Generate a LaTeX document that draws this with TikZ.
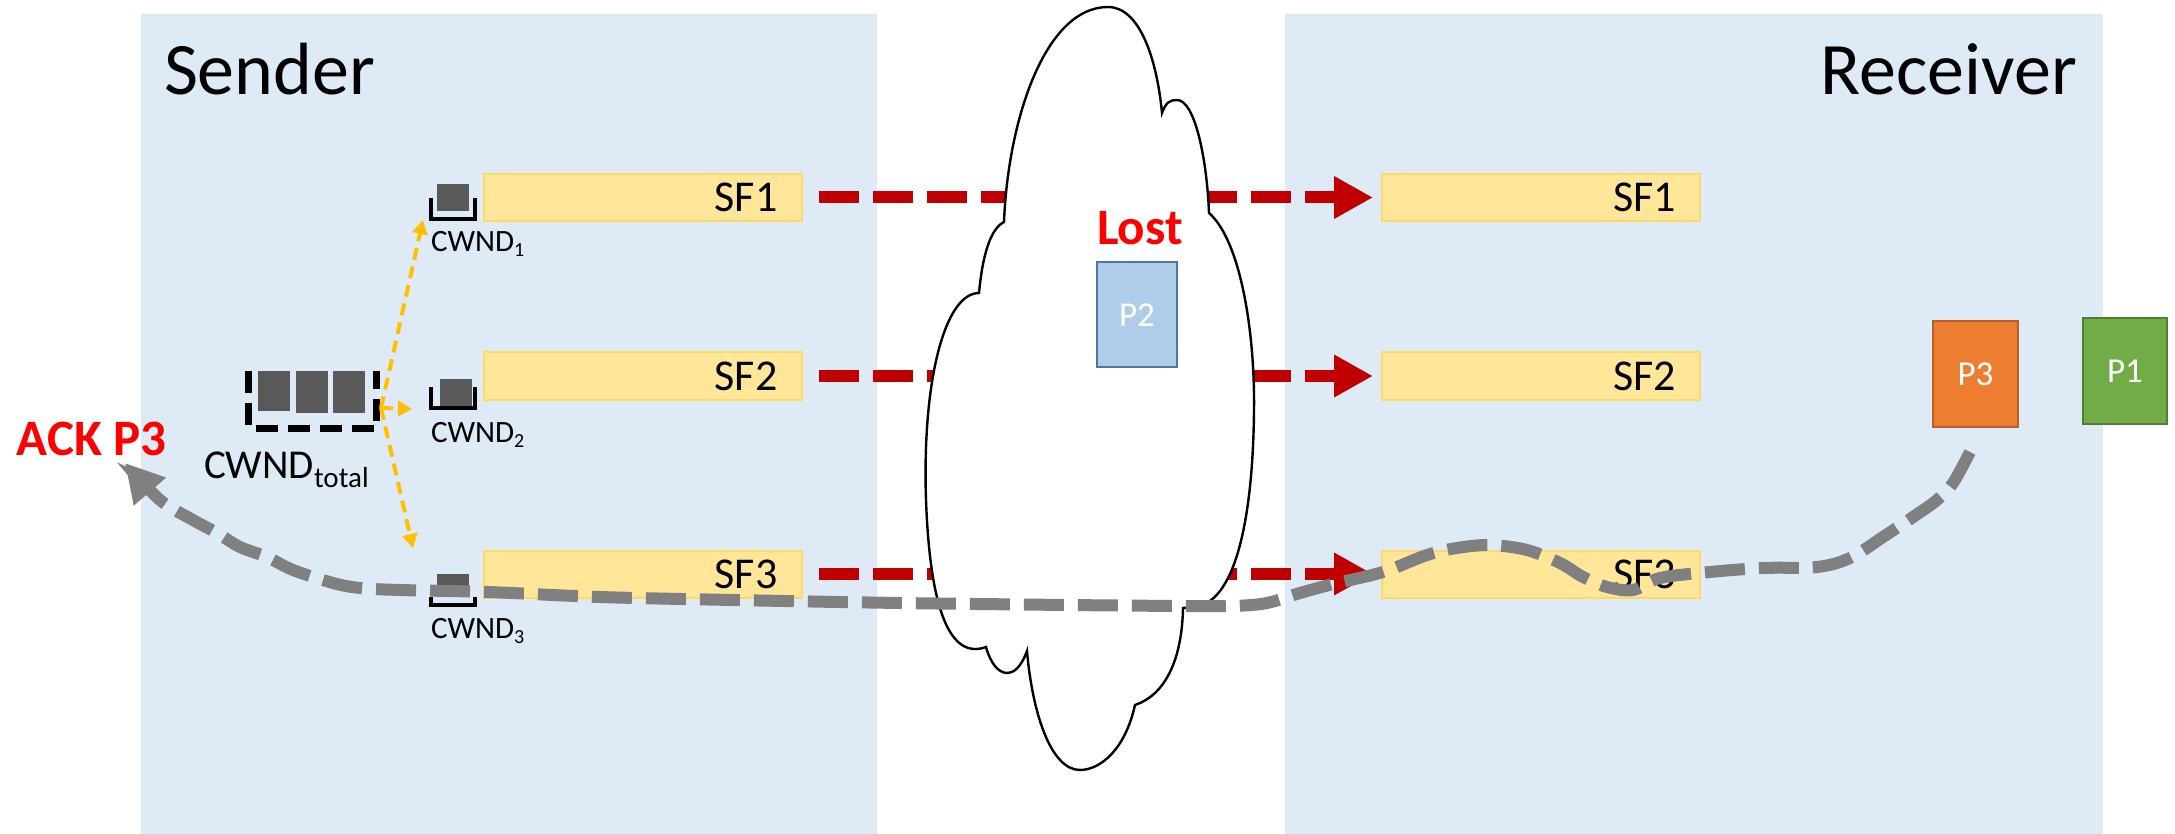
\documentclass[tikz,border=0pt]{standalone}
\usepackage{fontspec}
\setmainfont{Carlito}
\usetikzlibrary{arrows.meta}

\definecolor{panel}{RGB}{222,235,247}
\definecolor{sfFill}{RGB}{255,230,153}
\definecolor{sfLine}{RGB}{255,217,102}
\definecolor{dataRed}{RGB}{192,0,0}
\definecolor{ackGray}{RGB}{128,128,128}
\definecolor{splitOrange}{RGB}{255,192,0}
\definecolor{pktDark}{RGB}{89,89,89}
\definecolor{lostBlue}{RGB}{175,205,233}
\definecolor{lostBlueLine}{RGB}{74,118,168}
\definecolor{pThreeFill}{RGB}{237,125,49}
\definecolor{pThreeLine}{RGB}{184,95,36}
\definecolor{pOneFill}{RGB}{112,173,71}
\definecolor{pOneLine}{RGB}{80,126,50}
\definecolor{alertRed}{RGB}{255,0,0}

\newcommand\fsz[1]{\fontsize{#1}{#1}\selectfont}
\newcommand\lowidx[3]{\raisebox{-#2}{\fsz{#1}#3}}

\begin{document}
\begin{tikzpicture}[x=0.5pt,y=-0.5pt,
  txt/.style={inner sep=0pt, outer sep=0pt},
  title/.style={txt, font=\fsz{37}},
  sfbox/.style={draw=sfLine, line width=1pt, fill=sfFill,
    minimum width=159pt, minimum height=23.5pt, inner ysep=0pt,
    inner xsep=12pt, text width=135pt, align=right, font=\fsz{22}},
  pkt/.style={line width=1pt, minimum width=#1, minimum height=52.5pt,
    inner sep=0pt, text=white, font=\fsz{17.5}},
  dataflow/.style={draw=dataRed, line width=6pt, dash pattern=on 20pt off 7pt,
    -{Triangle[length=19.5pt,width=20pt]}, shorten <=8pt, shorten >=4pt},
  ack/.style={draw=ackGray, line width=6pt, dash pattern=on 20pt off 7pt,
    -{Triangle[length=19pt,width=20pt]}},
  split/.style={draw=splitOrange, line width=2pt, dash pattern=on 6pt off 3.5pt,
    -{Triangle[length=7pt,width=7.5pt]}},
  bracket/.style={draw=black, line width=2pt},
  totbracket/.style={draw=black, line width=3.5pt, dash pattern=on 11pt off 5pt},
  pktsq/.style={fill=pktDark},
  alert/.style={txt, text=alertRed, font=\fsz{25.5}\bfseries},
  cwnd/.style={txt, font=\fsz{15.5}},
  cloud/.style={draw=black, fill=white, line width=1.2pt, line join=miter}
]
\useasboundingbox (0,0) rectangle (2175,834);

% host panels
\fill[panel] (141,14) rectangle (877,834);
\fill[panel] (1285,14) rectangle (2103,834);
\node[title, anchor=base west] (sender) at (164,95) {Sender};
\node[title, anchor=base east] (receiver) at (2077,95) {Receiver};

% subflow buffers
\node[sfbox] (s1) at (642.5,197.5) {SF1};
\node[sfbox] (s2) at (642.5,376) {SF2};
\node[sfbox] (s3) at (642.5,574) {SF3};
\node[sfbox] (r1) at (1541,197.5) {SF1};
\node[sfbox] (r2) at (1541,376) {SF2};
\node[sfbox] (r3) at (1541,574) {SF3};

% data packets crossing the network
\draw[dataflow] (s1.east) -- (r1.west);
\draw[dataflow] (s2.east) -- (r2.west);
\draw[dataflow] (s3.east) -- (r3.west);

% the network cloud, one curve per lobe
\path[cloud]
  (1004,222) .. controls (1008,120) and (1045,7) .. (1108,7)
             .. controls (1140,7) and (1157,60) .. (1162,113)
             .. controls (1166,102) and (1170,100) .. (1177,100)
             .. controls (1195,100) and (1207,160) .. (1209,213)
             .. controls (1240,240) and (1255,330) .. (1254,410)
             .. controls (1253,520) and (1235,605) .. (1193,607)
  -- (1183,608)
             .. controls (1182,660) and (1165,695) .. (1135,705)
             .. controls (1125,750) and (1100,770) .. (1080,770)
             .. controls (1050,770) and (1032,710) .. (1027,651)
             .. controls (1020,670) and (1012,673) .. (1007,673)
             .. controls (998,673) and (990,662) .. (986,647)
             .. controls (950,660) and (930,610) .. (926,500)
             .. controls (922,380) and (945,293) .. (979,293)
             .. controls (983,250) and (992,228) .. (1004,222)
  -- cycle;

% lost packet
\node[alert, anchor=base west] (lost) at (1097,245) {Lost};
\node[pkt=40pt, draw=lostBlueLine, fill=lostBlue] (p2) at (1137,315) {P2};

% packets at the receiver
\node[pkt=42.5pt, draw=pThreeLine, fill=pThreeFill] (p3) at (1975.5,374) {P3};
\node[pkt=42pt, draw=pOneLine, fill=pOneFill] (p1) at (2125,371) {P1};

% per-subflow congestion windows
\draw[bracket] (431,198) -- (431,219) -- (475,219) -- (475,198);
\fill[pktsq] (437,184) rectangle (469,211);
\node[cwnd, anchor=base west] (w1) at (431,252) {CWND\lowidx{10pt}{2.5pt}{1}};

\draw[bracket] (431,387) -- (431,408) -- (475,408) -- (475,387);
\fill[pktsq] (440,379) rectangle (472,406);
\node[cwnd, anchor=base west] (w2) at (431,442) {CWND\lowidx{10pt}{2.5pt}{2}};

\draw[bracket] (431,597) -- (431,605) -- (475,605) -- (475,597);
\fill[pktsq] (437,574) rectangle (469,597);
\node[cwnd, anchor=base west] (w3) at (431,638) {CWND\lowidx{10pt}{2.5pt}{3}};

% total congestion window
\draw[totbracket] (248.5,371) -- (248.5,428) -- (376.5,428) -- (376.5,371);
\fill[pktsq] (258,371) rectangle (290,411);
\fill[pktsq] (296,371) rectangle (328,413);
\fill[pktsq] (333,371) rectangle (365,413);
\node[txt, font=\fsz{20.5}, anchor=base west] (wtot) at (204,478) {CWND\lowidx{14.5pt}{4.5pt}{total}};

% split of the total window over the subflows
\coordinate (split) at (381,408);
\coordinate (w1in) at (423,220);
\coordinate (w2in) at (412,409);
\coordinate (w3in) at (413,548);
\draw[split] (split) -- (w1in);
\draw[split] (split) -- (w2in);
\draw[split] (split) -- (w3in);

% acknowledgement returning over SF3
\node[alert, anchor=base west] (ackp3) at (17,455) {ACK P3};
\coordinate (ackfrom) at (1970,452);
\coordinate (ackto) at (125,463);
\draw[ack] plot[smooth, tension=0.55] coordinates {(ackfrom) (1953,483) (1937,500) (1913,517) (1883,537) (1850,558) (1817,567) (1763,568) (1710,572) (1660,578) (1633,590) (1607,587) (1583,577) (1560,563) (1527,550) (1490,545) (1457,548) (1427,555) (1383,572) (1333,584) (1300,593) (1267,603) (1233,606) (1183,606) (1067,605) (900,603) (733,600) (600,597) (488,592) (400,590) (360,588) (333,583) (293,570) (267,557) (240,547) (217,533) (193,520) (160,500) (ackto)};
\end{tikzpicture}
\end{document}
